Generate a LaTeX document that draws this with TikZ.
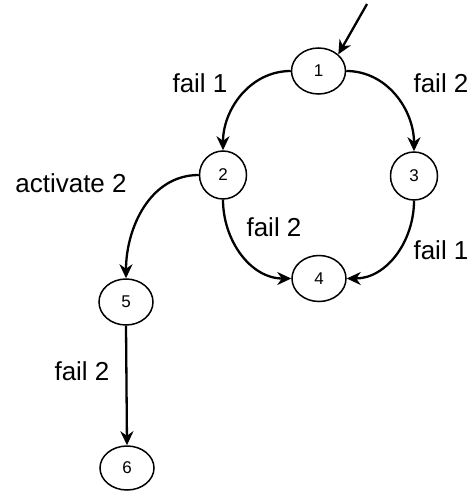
\documentclass[tikz,border=0pt]{standalone}
\usepackage{fontspec}
\setmainfont{Liberation Sans}
\usetikzlibrary{shapes.geometric,arrows.meta}
\begin{document}
\begin{tikzpicture}[x=1pt,y=-1pt,
  state/.style={draw,ellipse,line width=1.5pt,inner sep=0pt,font=\fontsize{17}{20}\selectfont},
  wide/.style={state,minimum width=54pt,minimum height=46pt},
  round/.style={state,minimum width=47pt,minimum height=48pt},
  lbl/.style={font=\fontsize{26}{30}\selectfont,inner sep=0pt},
  edge/.style={line width=2.3pt,-{Stealth[length=14pt,width=13pt,inset=4.5pt]}}]
\useasboundingbox (0,0) rectangle (470,492);
\node[wide]  (n1) at (318.5,71) {1};
\node[round] (n2) at (223,175) {2};
\node[round] (n3) at (414,176) {3};
\node[wide]  (n4) at (319,278.5) {4};
\node[wide]  (n5) at (126,302) {5};
\node[wide,minimum height=44pt] (n6) at (127,468) {6};
\coordinate (start) at (367,4);
\draw[edge] (start) -- (n1.40);
\draw[edge] (n1.west) to[out=180,in=90] (n2.north);
\draw[edge] (n1.east) to[out=0,in=90] (n3.north);
\draw[edge] (n2.south) to[out=-90,in=180] (n4.west);
\draw[edge] (n3.south) to[out=-90,in=0] (n4.east);
\draw[edge] (n2.west) to[out=180,in=90] (n5.north);
\draw[edge] (n5.south) -- (n6.north);
\node[lbl] (l1) at (200,83) {fail 1};
\node[lbl] (l2) at (441,83) {fail 2};
\node[lbl] (l3) at (71,183) {activate 2};
\node[lbl] (l4) at (274,227) {fail 2};
\node[lbl] (l5) at (441,250) {fail 1};
\node[lbl] (l6) at (82,371) {fail 2};
\end{tikzpicture}
\end{document}
